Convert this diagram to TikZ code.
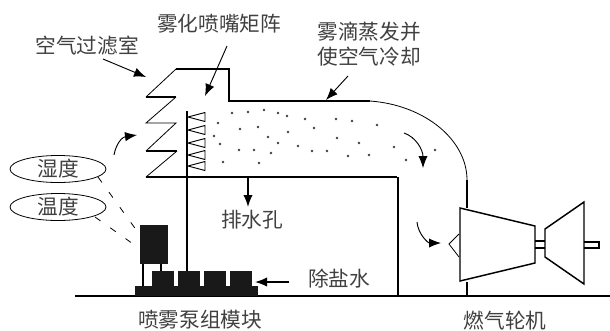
\documentclass[tikz,border=0pt]{standalone}
\usepackage{fontspec}
\setmainfont{Noto Sans CJK SC}[Scale=1]
\usetikzlibrary{shapes.geometric}
\usetikzlibrary{arrows.meta}
\begin{document}
\begin{tikzpicture}
		[x=0.75pt, y=-0.75pt, thin line/.style = {line width=0.6pt}, wall/.style = {line width=1.1pt},
		duct/.style = {line width=1.4pt}, title/.style = {font=\fontsize{15.5}{18}\selectfont, text=black!75, inner sep=0pt},
		pointer/.style = {line width=0.7pt, -{Latex[length=9pt,width=7pt]}}, solid box/.style = {fill=black!90, draw=none},
		spot/.style = {circle, fill=black!75, inner sep=0pt, minimum size=2pt}, sensor/.style = {draw, ellipse, line width=0.6pt, minimum width=72pt, minimum height=18pt, inner sep=0pt, font=\fontsize{15.5}{18}\selectfont, text=black!75}]
	\useasboundingbox (0,0) rectangle (610,330);
	\node[title] (nozzle) at (219,24) {雾化喷嘴矩阵};
	\node[title] (filter) at (87,46) {空气过滤室};
	\node[title] (mist1) at (369,32) {雾滴蒸发并};
	\node[title] (mist2) at (369,57) {使空气冷却};
	\node[title] (drain) at (252,220) {排水孔};
	\node[title] (water) at (339,279) {除盐水};
	\node[title] (pump) at (200,320) {喷雾泵组模块};
	\node[title] (turbine) at (505,321) {燃气轮机};
	\node[sensor] (humid) at (58,169) {湿度};
	\node[sensor] (temp) at (58,207) {温度};
	\draw[wall] (75,296) -- (610,296);
	\draw[duct] (146,97) -- (176,97) (146,151) -- (177,151) (146,177) -- (397,177);
	\draw[thin line] (176,69) -- (146,97) (176,97) -- (146,123) -- (176,123) -- (146,151) (177,151) -- (146,177);
	\draw[duct] (176,69) -- (229,69) -- (229,101) -- (370,101);
	\draw[thin line] (370,101) .. controls (425,105) and (467,140) .. (467,180);
	\draw[wall] (467,180) -- (467,208) (467,282) -- (467,296);
	\draw[wall] (398,177) -- (398,296);
	\draw[wall] (187,111) -- (187,271);
	\foreach \y in {117,130,143,155,166}
		\draw[line width=0.7pt] (188,\y) -- (205,\y-4.5) -- (205,\y+4.5) -- cycle;
	\foreach \x/\y in {232/113,248/112,264/110,278/113,287/116,218/123,240/129,258/127,288/132,214/136,268/137,220/144,278/143,298/146,239/150,254/150,271/153,223/162,259/163,305/119,314/128,336/119,352/121,377/125,337/138,359/143,394/147,435/150,312/151,327/151,348/156,369/155,406/160}
		\node[spot] at (\x,\y) {};
	\draw[solid box] (140,225) rectangle (168,264);
	\draw[wall] (143,264) -- (143,286) (161,264) -- (161,271);
	\foreach \x in {152,178,204,230}
		\draw[solid box] (\x,271) rectangle (\x+22,286);
	\draw[solid box] (135,286) rectangle (258,296);
	\draw[thin line, dash pattern=on 5pt off 9pt] (98,177) -- (137,231);
	\draw[thin line, dash pattern=on 5pt off 9pt] (95,217) -- (136,246);
	\coordinate (filtertip) at (146,77);
	\coordinate (nozzletip) at (205,96);
	\coordinate (misttip) at (326,100);
	\coordinate (draintop) at (248,177);
	\coordinate (draintip) at (248,207);
	\coordinate (watertail) at (289,282);
	\coordinate (watertip) at (255,282);
	\draw[pointer] (103,59) -- (filtertip);
	\draw[pointer] (227,46) -- (nozzletip);
	\draw[pointer] (348,76) -- (misttip);
	\draw[pointer, line width=1.1pt] (draintop) -- (draintip);
	\draw[pointer, line width=1.1pt] (watertail) -- (watertip);
	\draw[pointer] (114,155) .. controls (116,144) and (122,137) .. (137,135);
	\draw[pointer] (404,133) .. controls (416,137) and (423,150) .. (423,168);
	\draw[pointer] (417,222) .. controls (418,234) and (428,243) .. (441,243);
	\draw[wall, fill=white] (460,208) -- (535,226) -- (535,263) -- (460,281) -- cycle;
	\draw[thin line] (459,234) -- (449,244) -- (459,257);
	\draw[wall] (535,241) -- (545,241) (535,248) -- (545,248);
	\draw[wall] (545,229) -- (584,202) -- (584,284) -- (545,257) -- cycle;
	\draw[wall] (584,242) -- (599,242) -- (599,248) -- (584,248);
\end{tikzpicture}
\end{document}
